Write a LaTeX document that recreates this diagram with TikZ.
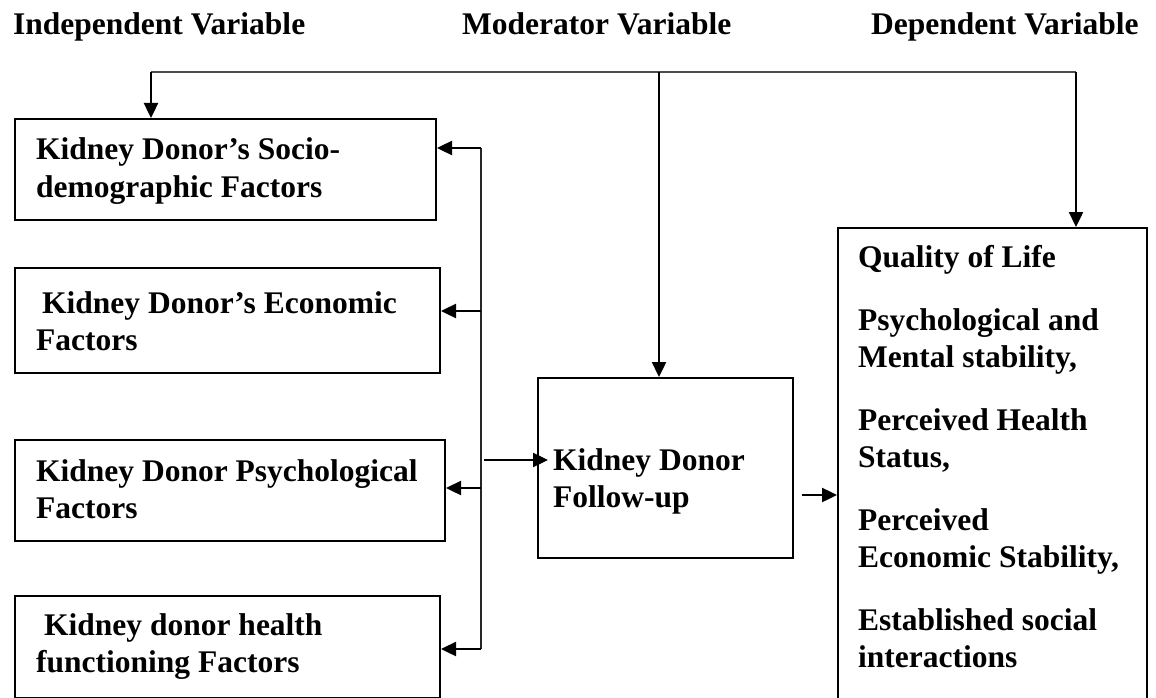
\documentclass[tikz,border=0pt]{standalone}
\usepackage{fontspec}
\setmainfont{Liberation Serif}
\usetikzlibrary{arrows.meta}
\newcommand\tbox[1]{\parbox[t]{420pt}{\raggedright #1}}
\begin{document}
\begin{tikzpicture}[x=1pt,y=-1pt,
  box/.style={draw, line width=2pt, inner sep=0pt, anchor=north west},
  txt/.style={inner sep=0pt, anchor=base west, font=\fontsize{31.5}{37}\selectfont\bfseries},
  arr/.style={line width=2.4pt, -{Triangle[length=15pt,width=14pt]}},
  topline/.style={line width=2pt, draw=black!70},
  fbline/.style={line width=1.3pt, draw=black!85},
]
\useasboundingbox (0,0) rectangle (1156,698);

% headers
\node[txt] (h1) at (13,35) {Independent Variable};
\node[txt] (h2) at (462,35) {Moderator Variable};
\node[txt] (h3) at (871,35) {Dependent Variable};

% left boxes
\node[box, minimum width=421pt, minimum height=101pt] (b1) at (14,118) {};
\node[txt] (t1) at (36,160) {\tbox{Kidney Donor’s Socio-\\demographic Factors}};
\node[box, minimum width=425pt, minimum height=105pt] (b2) at (14,267) {};
\node[txt] (t2) at (36,313) {\tbox{\hspace*{6pt}Kidney Donor’s Economic\\Factors}};
\node[box, minimum width=430pt, minimum height=101pt] (b3) at (14,439) {};
\node[txt] (t3) at (36,481) {\tbox{Kidney Donor Psychological\\Factors}};
\node[box, minimum width=425pt, minimum height=102pt] (b4) at (14,595) {};
\node[txt] (t4) at (36,635) {\tbox{\hspace*{8pt}Kidney donor health\\functioning Factors}};

% middle box
\node[box, minimum width=255pt, minimum height=180pt] (m) at (537,377) {};
\node[txt] (mt) at (553,470) {\tbox{Kidney Donor\\Follow-up}};

% right box
\node[box, minimum width=309pt, minimum height=500pt] (r) at (837,227) {};
\node[txt] (rt) at (858,267) {\tbox{Quality of Life\\[26pt]Psychological and\\Mental stability,\\[26pt]Perceived Health\\Status,\\[26pt]Perceived\\Economic Stability,\\[26pt]Established social\\interactions}};

% top distribution line
\coordinate (tl) at (151,72);
\coordinate (tm) at (659,72);
\coordinate (tr) at (1076,72);
\draw[topline] (tl) -- (tr);
\draw[arr] (tl) -- (tl |- b1.north);
\draw[arr] (tm) -- (tm |- m.north);
\draw[arr] (tr) -- (tr |- r.north);

% feedback vertical line
\coordinate (f1) at (481,148);
\coordinate (f2) at (481,311);
\coordinate (f3) at (481,488);
\coordinate (f4) at (481,649);
\draw[fbline] (f1) -- (f4);
\draw[arr] (f1) -- (b1.east |- f1);
\draw[arr] (f2) -- (b2.east |- f2);
\draw[arr] (f3) -- (b3.east |- f3);
\draw[arr] (f4) -- (b4.east |- f4);

% into moderator
\coordinate (g1) at (484,460);
\coordinate (g2) at (548,460);
\draw[arr] (g1) -- (g2);

% moderator to dependent
\coordinate (k1) at (802,495);
\draw[arr] (k1) -- (r.west |- k1);
\end{tikzpicture}
\end{document}
